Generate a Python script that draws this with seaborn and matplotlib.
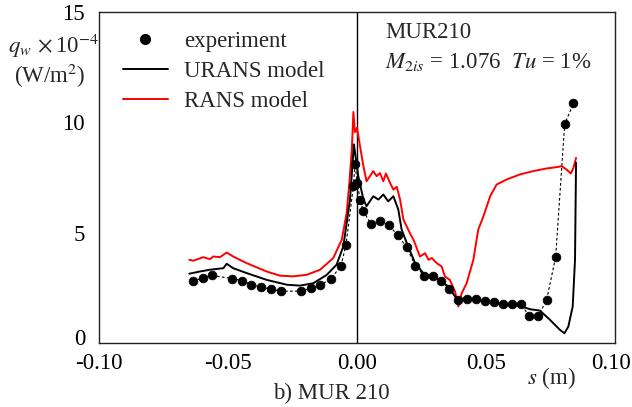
import matplotlib
matplotlib.use("Agg")
import matplotlib.pyplot as plt
import matplotlib.transforms as mtransforms
from matplotlib.lines import Line2D
import seaborn as sns
import pandas as pd

# Measured wall heat flux (q_w x 1e-4, W/m^2) along surface coordinate s (m)
exp_s = [-0.0637, -0.0598, -0.0562, -0.0484, -0.0447, -0.0410, -0.0371, -0.0333,
         -0.0295, -0.0217, -0.0179, -0.0142, -0.0102, -0.0063, -0.0043, -0.0014,
         -0.0008, 0.0001, 0.0012, 0.0025, 0.0053, 0.0089, 0.0124, 0.0158, 0.0193,
         0.0226, 0.0260, 0.0293, 0.0326, 0.0358, 0.0393, 0.0428, 0.0461, 0.0496,
         0.0531, 0.0565, 0.0600, 0.0634, 0.0668, 0.0702, 0.0735, 0.0770, 0.0805,
         0.0839]
exp_q = [2.82, 2.94, 3.06, 2.92, 2.83, 2.65, 2.53, 2.44,
         2.35, 2.35, 2.48, 2.62, 2.91, 3.47, 4.42, 7.10,
         8.10, 7.26, 6.50, 5.97, 5.41, 5.52, 5.33, 4.88, 4.33,
         3.51, 3.05, 3.02, 2.82, 2.44, 1.95, 2.01, 2.01, 1.91,
         1.86, 1.77, 1.76, 1.77, 1.23, 1.23, 1.95, 3.90, 9.92,
         10.86]

# URANS prediction
urans_s = [-0.0650, -0.0609, -0.0570, -0.0518, -0.0505, -0.0480, -0.0428, -0.0350,
           -0.0272, -0.0221, -0.0169, -0.0117, -0.0079, -0.0053, -0.0038, -0.0027,
           -0.0012, 0.0005, 0.0025, 0.0037, 0.0063, 0.0083, 0.0102, 0.0121, 0.0141,
           0.0160, 0.0173, 0.0193, 0.0225, 0.0257, 0.0322, 0.0354, 0.0393, 0.0412,
           0.0451, 0.0541, 0.0632, 0.0671, 0.0709, 0.0748, 0.0787, 0.0804, 0.0819,
           0.0836, 0.0845, 0.0849]
urans_q = [3.14, 3.24, 3.32, 3.39, 3.59, 3.39, 3.17, 2.86,
           2.64, 2.60, 2.71, 3.09, 3.55, 4.38, 5.60, 6.50,
           9.00, 7.56, 6.50, 6.20, 6.65, 6.50, 6.73, 6.42, 6.65,
           6.05, 5.14, 4.53, 3.62, 3.17, 2.86, 2.56, 1.88, 2.03,
           1.95, 1.80, 1.68, 1.53, 1.47, 1.05, 0.59, 0.44, 0.74,
           1.65, 3.77, 8.17]

# RANS prediction
rans_s = [-0.0650, -0.0634, -0.0596, -0.0570, -0.0557, -0.0531, -0.0505, -0.0480,
          -0.0428, -0.0350, -0.0298, -0.0247, -0.0195, -0.0143, -0.0092, -0.0059,
          -0.0040, -0.0030, -0.0020, -0.0014, -0.0008, 0.0000, 0.0012, 0.0025,
          0.0037, 0.0050, 0.0063, 0.0076, 0.0089, 0.0102, 0.0112, 0.0128, 0.0141,
          0.0154, 0.0167, 0.0180, 0.0205, 0.0219, 0.0244, 0.0264, 0.0277, 0.0290,
          0.0309, 0.0328, 0.0341, 0.0360, 0.0380, 0.0393, 0.0406, 0.0425, 0.0451,
          0.0470, 0.0490, 0.0516, 0.0541, 0.0580, 0.0632, 0.0683, 0.0735, 0.0780,
          0.0793, 0.0812, 0.0829, 0.0839, 0.0849]
rans_q = [3.77, 3.73, 3.89, 3.80, 3.92, 3.89, 4.10, 3.92,
          3.62, 3.24, 3.05, 3.02, 3.09, 3.32, 3.85, 4.68,
          5.90, 7.20, 8.77, 10.47, 9.55, 9.75, 8.90, 8.00,
          7.33, 7.56, 7.79, 7.56, 7.70, 7.33, 7.68, 7.26, 6.95,
          7.08, 6.50, 5.59, 4.98, 4.68, 3.92, 4.07, 3.77, 3.85,
          3.62, 3.47, 3.01, 2.86, 2.33, 1.65, 2.26, 2.71, 3.77,
          5.14, 5.74, 6.65, 7.18, 7.41, 7.64, 7.79, 7.91, 7.98,
          8.02, 7.86, 7.68, 7.94, 8.39]

x_ticks = [-0.10, -0.05, 0.00, 0.05, 0.10]
x_ticklabels = ["-0.10", "-0.05", "0.00", "0.05", "0.10"]
y_ticks = [0, 5, 10, 15]

exp_df = pd.DataFrame({"s": exp_s, "q": exp_q})
urans_df = pd.DataFrame({"s": urans_s, "q": urans_q})
rans_df = pd.DataFrame({"s": rans_s, "q": rans_q})

sns.set_theme(style="white")
plt.rcParams["font.family"] = ["Liberation Serif", "DejaVu Serif"]
plt.rcParams["mathtext.fontset"] = "stix"
plt.rcParams["axes.unicode_minus"] = False

W, H = 632, 407
fig = plt.figure(figsize=(W / 100, H / 100), dpi=100)
L, R, T, B = 99, 615, 12, 343
ax = fig.add_axes([L / W, 1 - B / H, (R - L) / W, (B - T) / H])

FS = 16.5

# measured data: dotted connector plus filled circles
sns.lineplot(data=exp_df, x="s", y="q", ax=ax, color="black", lw=0.8,
             linestyle=(0, (2.5, 2)), sort=False, estimator=None)
sns.scatterplot(data=exp_df, x="s", y="q", ax=ax, color="black", s=40,
                edgecolor="black", linewidth=0.5, zorder=3)
sns.lineplot(data=urans_df, x="s", y="q", ax=ax, color="black", lw=1.4,
             sort=False, estimator=None, zorder=4)
sns.lineplot(data=rans_df, x="s", y="q", ax=ax, color="#ff0000", lw=1.4,
             sort=False, estimator=None, zorder=2)

ax.axvline(0.0, color="black", lw=1.0, zorder=1)

ax.set_xlim(-0.10, 0.10)
ax.set_ylim(0, 15)
ax.set_xticks(x_ticks)
ax.set_xticklabels(x_ticklabels)
ax.set_yticks(y_ticks)
ax.set_xlabel("")
ax.set_ylabel("")
ax.tick_params(axis="both", direction="in", length=8, width=1, colors="black",
               labelsize=FS)
ax.tick_params(axis="x", pad=7, top=False)
ax.tick_params(axis="y", pad=10, right=False)
for sp in ax.spines.values():
    sp.set_visible(True)
    sp.set_color("#222222")
    sp.set_linewidth(1.0)

# nudge the corner labels so they stay clear of each other and the edge
ylab0 = ax.get_yticklabels()[0]
ylab0.set_transform(ylab0.get_transform() +
                    mtransforms.ScaledTranslation(0, 4 / 72, fig.dpi_scale_trans))
xlab_last = ax.get_xticklabels()[-1]
xlab_last.set_transform(xlab_last.get_transform() +
                        mtransforms.ScaledTranslation(-3 / 72, 0, fig.dpi_scale_trans))

# legend
handles = [
    Line2D([], [], marker="o", color="black", linestyle="none", markersize=7),
    Line2D([], [], color="black", lw=1.4),
    Line2D([], [], color="#ff0000", lw=1.4),
]
labels = ["experiment", "URANS model", "RANS model"]
fig.legend(handles, labels, loc="upper left",
           bbox_to_anchor=(123 / W, 1 - 31 / H), frameon=False, fontsize=FS,
           handlelength=1.95, handletextpad=0.7, labelspacing=0.4,
           borderaxespad=0, borderpad=0)

# axis annotations
fig.text(8 / W, 1 - 46 / H, r"$q_w\,\times$10$^{\mathrm{-4}}$", fontsize=FS,
         ha="left", va="center")
fig.text(14 / W, 1 - 76 / H, r"(W/m$^{2}$)", fontsize=FS, ha="left", va="center")
fig.text(527 / W, 1 - 378 / H, r"$s$ (m)", fontsize=FS, ha="left", va="center")
fig.text(331 / W, 1 - 393 / H, "b) MUR 210", fontsize=FS, ha="center",
         va="center")

fig.text(385 / W, 1 - 33 / H, "MUR210", fontsize=FS, ha="left", va="center")
fig.text(385 / W, 1 - 62 / H, r"$M_{2is}$ = 1.076  $Tu$ = 1%", fontsize=FS,
         ha="left", va="center")

fig.savefig("out.png", dpi=100)
